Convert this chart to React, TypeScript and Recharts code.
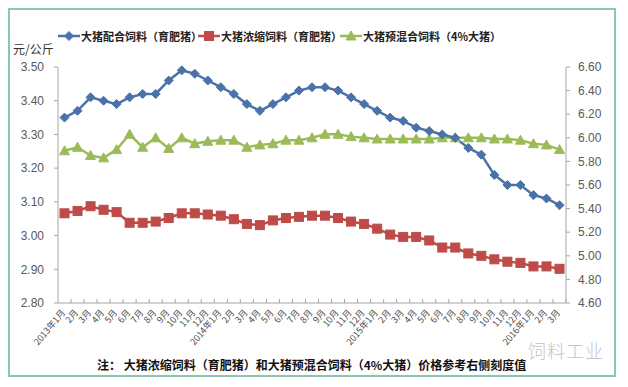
import React from 'react'
import { LineChart, Line, XAxis, YAxis } from 'recharts'

const monthLabels = [
  '2013年1月', '2月', '3月', '4月', '5月', '6月', '7月', '8月', '9月', '10月', '11月', '12月',
  '2014年1月', '2月', '3月', '4月', '5月', '6月', '7月', '8月', '9月', '10月', '11月', '12月',
  '2015年1月', '2月', '3月', '4月', '5月', '6月', '7月', '8月', '9月', '10月', '11月', '12月',
  '2016年1月', '2月', '3月',
]

// 大猪配合饲料（育肥猪） - left axis
const compoundFeed = [
  3.35, 3.37, 3.41, 3.40, 3.39, 3.41, 3.42, 3.42, 3.46, 3.49, 3.48, 3.46,
  3.44, 3.42, 3.39, 3.37, 3.39, 3.41, 3.43, 3.44, 3.44, 3.43, 3.41, 3.39,
  3.37, 3.35, 3.34, 3.32, 3.31, 3.30, 3.29, 3.26, 3.24, 3.18, 3.15, 3.15,
  3.12, 3.11, 3.09,
]

// 大猪浓缩饲料（育肥猪） - right axis
const concentrateFeed = [
  5.36, 5.38, 5.42, 5.39, 5.37, 5.28, 5.28, 5.29, 5.32, 5.36, 5.36, 5.35,
  5.34, 5.31, 5.27, 5.26, 5.30, 5.32, 5.33, 5.34, 5.34, 5.32, 5.29, 5.27,
  5.23, 5.18, 5.16, 5.16, 5.13, 5.07, 5.07, 5.02, 5.00, 4.97, 4.95, 4.94,
  4.91, 4.91, 4.89,
]

// 大猪预混合饲料（4%大猪） - right axis
const premixFeed = [
  5.89, 5.92, 5.85, 5.83, 5.90, 6.03, 5.92, 6.00, 5.91, 6.00, 5.95, 5.97,
  5.98, 5.98, 5.92, 5.94, 5.95, 5.98, 5.98, 6.00, 6.03, 6.03, 6.01, 6.00,
  5.99, 5.99, 5.99, 5.99, 5.99, 6.00, 6.00, 6.00, 6.00, 5.99, 5.99, 5.98,
  5.95, 5.94, 5.90,
]

const leftTicks = [2.8, 2.9, 3.0, 3.1, 3.2, 3.3, 3.4, 3.5]
const rightTicks = [4.6, 4.8, 5.0, 5.2, 5.4, 5.6, 5.8, 6.0, 6.2, 6.4, 6.6]

const seriesNames = ['大猪配合饲料（育肥猪）', '大猪浓缩饲料（育肥猪）', '大猪预混合饲料（4%大猪）']

const BLUE = '#4a72a8'
const RED = '#be4b48'
const GREEN = '#9bbb59'
const AXIS = '#a6a6a6'
const CJK = '"Noto Sans CJK SC", "Noto Sans", sans-serif'
const NUM = '"Liberation Sans", Arial, sans-serif'

const data = monthLabels.map((month, i) => ({
  month,
  compound: compoundFeed[i],
  concentrate: concentrateFeed[i],
  premix: premixFeed[i],
}))

const Diamond = ({ cx, cy, color }: any) => (
  <polygon points={`${cx},${cy - 4.5} ${cx + 4.5},${cy} ${cx},${cy + 4.5} ${cx - 4.5},${cy}`} fill={color} stroke={color} />
)
const Square = ({ cx, cy, color }: any) => (
  <rect x={cx - 4.5} y={cy - 4.5} width={9} height={9} fill={color} stroke={color} />
)
const Triangle = ({ cx, cy, color }: any) => (
  <polygon points={`${cx},${cy - 5} ${cx + 5},${cy + 4} ${cx - 5},${cy + 4}`} fill={color} stroke={color} />
)

const MonthTick = ({ x, y, payload, index }: any) => (
  <g>
    <line x1={x + 6.5} y1={y} x2={x + 6.5} y2={y - 4} stroke={AXIS} />
    <g transform={`translate(${x - 1},${y + 8})`}>
      <text textAnchor="end" transform="rotate(-50)" fontSize={9} fill="#4d4d4d" fontFamily={CJK} dy={3}>
        {monthLabels[index] ?? payload.value}
      </text>
    </g>
  </g>
)

const LegendItem = ({ left, color, label, Marker }: any) => (
  <div style={{ position: 'absolute', left, top: 20, display: 'flex', alignItems: 'center', height: 16 }}>
    <svg width={22} height={12}>
      <line x1={0} y1={6} x2={22} y2={6} stroke={color} strokeWidth={2.5} />
      <Marker cx={11} cy={6} color={color} />
    </svg>
    <span style={{ fontFamily: CJK, fontSize: 11, fontWeight: 700, color: '#222', marginLeft: 1, whiteSpace: 'nowrap' }}>
      {label}
    </span>
  </div>
)

export default function App() {
  return (
    <div style={{ position: 'relative', width: 608, height: 369, background: '#fff' }}>
      <div style={{ position: 'absolute', inset: 0, border: '2px solid #8cc6b0', boxSizing: 'border-box' }} />
      <LineChart width={608} height={369} data={data} margin={{ top: 59, right: 10, left: 10, bottom: 14 }}>
        <XAxis
          dataKey="month"
          interval={0}
          height={60}
          padding={{ left: 6.5, right: 6.5 }}
          axisLine={{ stroke: AXIS }}
          tickLine={false}
          tickSize={0}
          tickMargin={0}
          tick={<MonthTick />}
        />
        <YAxis
          yAxisId="left"
          width={40}
          domain={[2.8, 3.5]}
          ticks={leftTicks}
          tickFormatter={(v: number) => v.toFixed(2)}
          axisLine={{ stroke: AXIS }}
          tickLine={{ stroke: AXIS }}
          tickSize={4}
          tickMargin={10}
          tick={{ fill: '#595959', fontSize: 12, fontFamily: NUM }}
        />
        <YAxis
          yAxisId="right"
          orientation="right"
          width={40}
          domain={[4.6, 6.6]}
          ticks={rightTicks}
          tickFormatter={(v: number) => v.toFixed(2)}
          axisLine={{ stroke: AXIS }}
          tickLine={{ stroke: AXIS }}
          tickSize={4}
          tickMargin={8}
          tick={{ fill: '#595959', fontSize: 12, fontFamily: NUM }}
        />
        <Line
          yAxisId="right"
          dataKey="concentrate"
          stroke={RED}
          strokeWidth={2.5}
          isAnimationActive={false}
          dot={(p: any) => <Square key={`r${p.index}`} cx={p.cx} cy={p.cy} color={RED} />}
          activeDot={false}
        />
        <Line
          yAxisId="right"
          dataKey="premix"
          stroke={GREEN}
          strokeWidth={2.5}
          isAnimationActive={false}
          dot={(p: any) => <Triangle key={`g${p.index}`} cx={p.cx} cy={p.cy} color={GREEN} />}
          activeDot={false}
        />
        <Line
          yAxisId="left"
          dataKey="compound"
          stroke={BLUE}
          strokeWidth={2.5}
          isAnimationActive={false}
          dot={(p: any) => <Diamond key={`b${p.index}`} cx={p.cx} cy={p.cy} color={BLUE} />}
          activeDot={false}
        />
      </LineChart>

      <LegendItem left={50} color={BLUE} label={seriesNames[0]} Marker={Diamond} />
      <LegendItem left={190} color={RED} label={seriesNames[1]} Marker={Square} />
      <LegendItem left={332} color={GREEN} label={seriesNames[2]} Marker={Triangle} />

      <div style={{ position: 'absolute', left: 5, top: 32, fontFamily: CJK, fontSize: 12, color: '#333' }}>元/公斤</div>

      <div style={{ position: 'absolute', left: 520, top: 329, fontFamily: CJK, fontSize: 18, fontWeight: 300, color: '#c4c4c4', letterSpacing: 1 }}>
        饲料工业
      </div>

      <div style={{ position: 'absolute', left: 89, top: 348, fontFamily: CJK, fontSize: 12, fontWeight: 700, color: '#111', whiteSpace: 'nowrap' }}>
        注： 大猪浓缩饲料（育肥猪）和大猪预混合饲料（4%大猪）价格参考右侧刻度值
      </div>
    </div>
  )
}
